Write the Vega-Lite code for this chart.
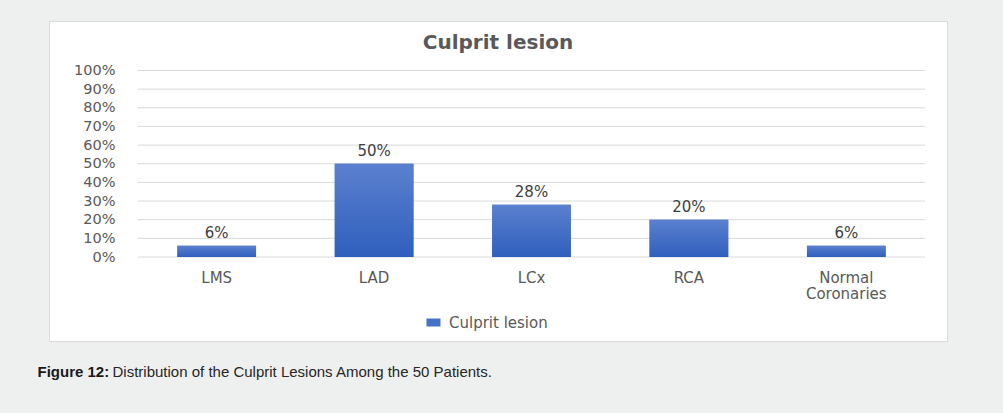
{
  "$schema": "https://vega.github.io/schema/vega-lite/v6.json",
  "background": "#eef0ef",
  "padding": {"left": 37, "top": 20, "right": 57, "bottom": 33},
  "title": {
    "text": "Figure 12:",
    "subtitle": "\u200b\u00a0\u00a0\u00a0\u00a0\u00a0\u00a0\u00a0\u00a0\u00a0\u00a0\u00a0\u00a0\u00a0\u00a0\u00a0\u00a0\u00a0\u00a0Distribution of the Culprit Lesions Among the 50 Patients.",
    "orient": "bottom",
    "anchor": "start",
    "dx": -11,
    "offset": 35,
    "baseline": "alphabetic",
    "font": "Liberation Sans",
    "fontSize": 15,
    "fontWeight": "bold",
    "color": "#1a1a1a",
    "subtitleFont": "Liberation Sans",
    "subtitleFontSize": 15,
    "subtitleFontWeight": "normal",
    "subtitleColor": "#262626",
    "subtitlePadding": -15
  },
  "vconcat": [
    {
      "width": 898,
      "height": 320,
      "title": {
        "text": "Culprit lesion",
        "anchor": "middle",
        "offset": -48,
        "baseline": "alphabetic",
        "font": "DejaVu Sans",
        "fontSize": 20,
        "fontWeight": "bold",
        "color": "#595959"
      },
      "layer": [
        {
          "data": {"values": [
            {"v": 0}, {"v": 0.1}, {"v": 0.2}, {"v": 0.3}, {"v": 0.4}, {"v": 0.5},
            {"v": 0.6}, {"v": 0.7}, {"v": 0.8}, {"v": 0.9}, {"v": 1.0}
          ]},
          "mark": {"type": "rule", "color": "#d9d9d9", "strokeWidth": 1},
          "encoding": {
            "y": {"field": "v", "type": "quantitative",
                  "scale": {"domain": [0, 1], "range": [236, 49.5], "nice": false},
                  "axis": {"title": null, "values": [0, 0.1, 0.2, 0.3, 0.4, 0.5, 0.6, 0.7, 0.8, 0.9, 1.0], "format": ".0%",
                           "grid": false, "domain": false, "ticks": false, "tickSize": 0, "offset": -89, "labelPadding": 23,
                           "labelFont": "DejaVu Sans", "labelFontSize": 14.5, "labelColor": "#595959"}},
            "x": {"datum": "LMS", "type": "nominal", "bandPosition": -0.5,
                  "scale": {"domain": ["LMS", "LAD", "LCx", "RCA", "Normal Coronaries"], "range": [89, 876], "paddingInner": 0.5, "paddingOuter": 0.25},
                  "axis": {"title": null, "labelAngle": 0, "offset": -84, "domain": false, "ticks": false, "tickSize": 0,
                           "labelPadding": 13, "labelFont": "DejaVu Sans", "labelFontSize": 15, "labelColor": "#595959",
                           "labelLineHeight": 16, "labelBaseline": "top",
                           "labelExpr": "datum.value == 'Normal Coronaries' ? ['Normal', 'Coronaries'] : datum.label"}},
            "x2": {"datum": "Normal Coronaries", "bandPosition": 1.5}
          }
        },
        {
          "data": {"name": "bars", "values": [
            {"cat": "LMS", "pct": 0.06},
            {"cat": "LAD", "pct": 0.50},
            {"cat": "LCx", "pct": 0.28},
            {"cat": "RCA", "pct": 0.20},
            {"cat": "Normal Coronaries", "pct": 0.06}
          ]},
          "layer": [
            {
              "mark": {"type": "bar"},
              "encoding": {
                "x": {"field": "cat", "type": "nominal", "sort": null,
                      "axis": {"title": null, "labelAngle": 0, "offset": -84, "domain": false, "ticks": false, "tickSize": 0,
                               "labelPadding": 13, "labelFont": "DejaVu Sans", "labelFontSize": 15, "labelColor": "#595959",
                               "labelLineHeight": 16, "labelBaseline": "top",
                               "labelExpr": "datum.value == 'Normal Coronaries' ? ['Normal', 'Coronaries'] : datum.label"}},
                "y": {"field": "pct", "type": "quantitative",
                      "axis": {"title": null, "values": [0, 0.1, 0.2, 0.3, 0.4, 0.5, 0.6, 0.7, 0.8, 0.9, 1.0], "format": ".0%",
                               "grid": false, "domain": false, "ticks": false, "tickSize": 0, "offset": -89, "labelPadding": 23,
                               "labelFont": "DejaVu Sans", "labelFontSize": 14.5, "labelColor": "#595959"}},
                "color": {"datum": "Culprit lesion", "type": "nominal",
                          "scale": {"range": ["#4472c4"]},
                          "legend": {"orient": "none", "legendX": 377, "legendY": 294, "title": null,
                                     "symbolType": "M-1,-0.57H1V0.57H-1Z", "symbolSize": 196, "symbolStrokeWidth": 0,
                                     "labelFont": "DejaVu Sans", "labelFontSize": 15, "labelColor": "#595959", "labelOffset": 8}}
              }
            },
            {
              "mark": {"type": "bar", "fill": {"gradient": "linear", "x1": 0, "y1": 0, "x2": 0, "y2": 1,
                        "stops": [{"offset": 0, "color": "#5b80cf"}, {"offset": 1, "color": "#2f5fbd"}]}},
              "encoding": {
                "x": {"field": "cat", "type": "nominal", "sort": null,
                      "axis": {"title": null, "labelAngle": 0, "offset": -84, "domain": false, "ticks": false, "tickSize": 0,
                               "labelPadding": 13, "labelFont": "DejaVu Sans", "labelFontSize": 15, "labelColor": "#595959",
                               "labelLineHeight": 16, "labelBaseline": "top",
                               "labelExpr": "datum.value == 'Normal Coronaries' ? ['Normal', 'Coronaries'] : datum.label"}},
                "y": {"field": "pct", "type": "quantitative",
                      "axis": {"title": null, "values": [0, 0.1, 0.2, 0.3, 0.4, 0.5, 0.6, 0.7, 0.8, 0.9, 1.0], "format": ".0%",
                               "grid": false, "domain": false, "ticks": false, "tickSize": 0, "offset": -89, "labelPadding": 23,
                               "labelFont": "DejaVu Sans", "labelFontSize": 14.5, "labelColor": "#595959"}}
              }
            },
            {
              "mark": {"type": "text", "dy": -8, "baseline": "alphabetic", "font": "DejaVu Sans", "fontSize": 15, "fill": "#404040"},
              "encoding": {
                "x": {"field": "cat", "type": "nominal", "sort": null,
                      "axis": {"title": null, "labelAngle": 0, "offset": -84, "domain": false, "ticks": false, "tickSize": 0,
                               "labelPadding": 13, "labelFont": "DejaVu Sans", "labelFontSize": 15, "labelColor": "#595959",
                               "labelLineHeight": 16, "labelBaseline": "top",
                               "labelExpr": "datum.value == 'Normal Coronaries' ? ['Normal', 'Coronaries'] : datum.label"}},
                "y": {"field": "pct", "type": "quantitative",
                      "axis": {"title": null, "values": [0, 0.1, 0.2, 0.3, 0.4, 0.5, 0.6, 0.7, 0.8, 0.9, 1.0], "format": ".0%",
                               "grid": false, "domain": false, "ticks": false, "tickSize": 0, "offset": -89, "labelPadding": 23,
                               "labelFont": "DejaVu Sans", "labelFontSize": 14.5, "labelColor": "#595959"}},
                "text": {"field": "pct", "format": ".0%"}
              }
            }
          ]
        }
      ]
    }
  ],
  "config": {"view": {"fill": "white", "stroke": "#d9d9d9", "strokeWidth": 1}}
}
